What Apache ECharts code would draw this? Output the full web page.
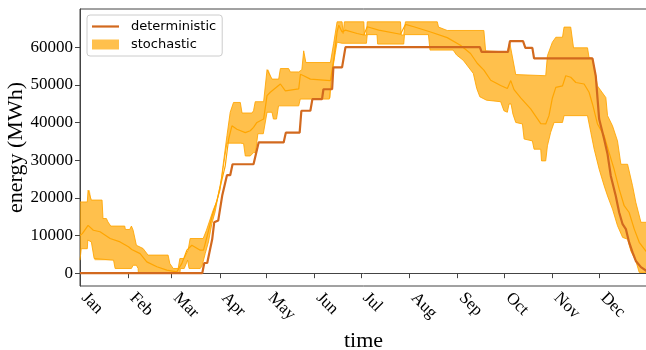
<!DOCTYPE html>
<html>
<head>
<meta charset="utf-8">
<script src="https://cdn.jsdelivr.net/npm/echarts@6/dist/echarts.min.js"></script>
<style>
html,body{margin:0;padding:0;background:#fff;}
#chart{width:646px;height:350px;}
</style>
</head>
<body>
<div id="chart"></div>
<script>
// ---- data (x = day of year, y = energy in MWh) ----
const months = ['Jan','Feb','Mar','Apr','May','Jun','Jul','Aug','Sep','Oct','Nov','Dec'];
const monthStartDays = [0,31,59,90,120,151,181,212,243,273,304,334];
const yTickValues = [0,10000,20000,30000,40000,50000,60000];

const detDays = [0,78.7,80,81.9,83.2,85.1,86.4,89,91.6,94.6,96.7,98.2,111.7,115,131.1,132.5,141.4,142.5,148.3,149.6,155.8,156.7,162.3,163.1,168.7,170.9,257.4,258.5,275.5,276.8,285.2,286.7,291.2,292.3,329.9,332,334.2,337.4,339.6,341.7,344.9,347.1,349.3,351.4,353.5,355.7,357.8,361.1,365];
const detValues = [0,0,2700,2700,5300,9000,13500,14000,20700,26000,26000,28900,28900,34700,34700,37300,37300,43100,43100,46200,46200,48800,48800,54600,54600,60000,60000,58700,58700,61600,61600,59800,59800,57000,57000,52400,40900,35600,31600,25800,20500,16100,13000,11700,8150,5500,3250,1600,500];

const upperDays = [0,4.7,5.2,6.3,7.3,14.2,14.8,17,18,19.8,28.8,29.2,32,33.1,34.2,36.3,40.6,43.8,56.7,57.8,60,63.2,64.3,67,69.6,70.9,79.3,81.4,83.6,85.7,87.9,90.1,91.9,94.6,96.7,98.8,103.2,104.3,110.7,111.7,112.8,118.2,120.4,121.4,123.6,127.9,129,134.3,135.4,140.8,142.8,144,145.4,161.2,163.3,165.5,168.7,169.4,170.2,182.7,183.1,184.4,184.9,206.3,206.8,208.4,209.5,230,230.8,236.4,260,261.1,275.1,276.6,277.9,280.5,299.8,300.9,304.1,306.3,310.6,311.6,315.9,317.7,326.7,327.7,329.9,333.1,338.5,339.6,342.8,346,348.2,352.5,355.7,357.8,361.1,365];
const upperValues = [18900,18900,22000,22000,19400,19400,14500,14500,13600,12500,12500,11600,11600,12500,11400,7400,6550,4800,4800,2600,1250,1250,3900,3900,6100,9200,9200,11400,14100,16700,18900,22000,28000,36500,42700,45300,45300,42500,42500,43100,45500,45500,54000,54000,51500,51500,54300,54300,53400,53400,54000,59000,55900,55900,61000,66700,66700,63600,66700,66700,63200,63200,66700,66700,63200,63200,66700,66700,65300,64400,64400,59000,58700,61200,58400,52700,52400,57700,61300,62600,62600,65300,65300,59800,59800,57200,57000,49700,46600,41800,39100,35100,28900,28900,23200,18800,13500,13500];

const lowerDays = [0,0.8,4.7,5,7.3,9.1,9.5,21.6,22.6,33.1,34.2,36.3,37.4,37.6,64.3,64.6,67.1,69.3,70.2,77.4,78.5,80.6,82.7,84.9,87,89.2,91.3,93.3,94.6,103.2,105.3,106.4,109.6,111.7,113,114.5,118,120.4,123.6,124.5,126.5,127.8,140.8,141.8,160.5,161.3,162.3,164.4,165.5,168.7,184.4,184.9,191.2,191.6,208.4,208.9,224.3,225.3,240.2,242.4,246.7,253.2,255.4,257.4,261.7,270.8,272.9,275.1,276.2,277.5,278.7,280.5,284.8,285.9,291.2,292.3,296.6,297.1,299.8,300.9,303,305.2,310.6,311.6,326.7,328.8,331,334.2,337.4,339.6,342.8,346,349.3,352.5,354.6,357.8,360,365];
const lowerValues = [3450,6500,6500,8800,8300,3900,3450,3450,1250,1250,2100,2100,1250,0,0,1250,1250,3450,1250,1250,1850,5200,8300,13200,16300,21200,25600,31100,34500,34500,34400,31100,31100,32000,32000,37000,37000,42700,42700,40900,40900,44400,44400,46200,46200,46600,53300,58600,61300,61000,61000,63300,63300,60800,60800,63300,63300,59200,59200,57900,56500,53000,49000,46800,45900,45500,43100,42700,44900,44900,42200,40000,39600,35600,35100,32900,32900,29800,29800,33800,37400,40000,40000,41800,41800,37400,32900,27600,23200,20500,17000,12600,9500,9000,5900,3250,200,200];

const medianDays = [0,1.5,5.2,8.6,12.9,19.4,25.8,31.2,33.3,38.7,43,49.5,55.9,62.3,65.6,68.8,72,77.4,79.5,81.7,84.9,88.2,91.3,93.5,95.7,97.8,101,106.4,109.6,111.7,113.9,118.2,120.4,122.5,129,132.2,140.8,141.9,144,148.3,161.2,163.3,165.5,166.6,168.7,170.9,178.4,182.7,184.9,192.3,206.3,209.5,214.9,225.7,236.4,244.9,251.4,255.7,260,264.4,270.8,275.1,277.3,279.4,283.7,290.1,296.6,299.8,301.9,304.1,306.3,310.6,312.7,315.9,319.2,324.5,327.7,329.9,333.1,337.4,340.6,343.8,347.1,350.3,353.5,356.8,360,365];
const medianValues = [10000,10500,12700,11400,11000,9200,8300,7000,6300,5200,3000,1700,800,350,2600,6100,7400,6100,6100,9600,14900,19400,24700,28500,35600,39100,38200,37300,37800,38700,40000,40900,47100,48000,50200,48400,48900,52800,52400,51500,51100,56500,64000,65800,64000,64500,63600,63200,65400,64500,63400,66000,65400,64000,62500,60500,58300,55700,53900,51200,49800,49000,51100,48700,46500,43600,39700,39600,41800,46500,49300,49700,52400,52000,50600,50200,48000,44900,39600,36500,32000,27600,22300,17900,16100,11700,8200,5500];

// ---- helpers ----
const zip = (xs, ys) => xs.map((x, i) => [x, ys[i]]);
const serif = 'Liberation Serif';
const sans = 'DejaVu Sans';
const axisColor = '#444';

const chart = echarts.init(document.getElementById('chart'), null, {renderer: 'canvas'});

const option = {
  animation: false,
  backgroundColor: '#fff',
  grid: {
    left: 80, right: -1, top: 9, bottom: 64,
    show: true, borderColor: axisColor, borderWidth: 1,
    outerBoundsMode: 'none'
  },
  legend: {
    orient: 'vertical',
    left: 87, top: 15,
    padding: [5, 6, 5, 5],
    itemGap: 5,
    itemWidth: 27, itemHeight: 10,
    symbolKeepAspect: true,
    backgroundColor: 'rgba(255,255,255,0.8)',
    borderColor: '#cccccc', borderWidth: 1, borderRadius: 3,
    textStyle: {fontFamily: sans, fontSize: 13, color: '#000', padding: [0,0,0,7]},
    data: [
      {name: 'deterministic', icon: 'path://M0,0H27V2.2H0Z', itemStyle: {color: '#D2691E'}},
      {name: 'stochastic', icon: 'rect'}
    ]
  },
  xAxis: {
    type: 'value', min: 0, max: 365,
    name: 'time', nameLocation: 'middle', nameGap: 44,
    nameMoveOverlap: false,
    nameTextStyle: {fontFamily: serif, fontSize: 22, color: '#000'},
    splitLine: {show: false},
    axisLine: {show: true, lineStyle: {color: axisColor, width: 1}},
    axisTick: {show: true, length: 5, lineStyle: {color: axisColor}, customValues: monthStartDays},
    axisLabel: {
      customValues: monthStartDays,
      rotate: -45, margin: 5,
      padding: [0, 0, 0, 6],
      fontFamily: serif, fontSize: 17, color: '#000',
      formatter: v => months[monthStartDays.indexOf(Math.round(v))] || ''
    }
  },
  yAxis: {
    type: 'value', min: -3400, max: 70100,
    name: 'energy (MWh)', nameLocation: 'middle', nameGap: 53,
    nameMoveOverlap: false,
    nameTextStyle: {fontFamily: serif, fontSize: 22, color: '#000'},
    splitLine: {show: false},
    axisLine: {show: true, lineStyle: {color: axisColor, width: 1}},
    axisTick: {show: true, length: 5, lineStyle: {color: axisColor}, customValues: yTickValues},
    axisLabel: {
      customValues: yTickValues, margin: 7,
      fontFamily: serif, fontSize: 17, color: '#000',
      formatter: v => String(Math.round(v))
    }
  },
  series: [
    {
      name: 'stochastic',
      type: 'custom',
      z: 1,
      silent: true,
      itemStyle: {color: 'rgba(255,165,0,0.7)'},
      data: [[0, 0]],
      renderItem: function (params, api) {
        const pts = [];
        for (let i = 0; i < upperDays.length; i++) pts.push(api.coord([upperDays[i], upperValues[i]]));
        for (let i = lowerDays.length - 1; i >= 0; i--) pts.push(api.coord([lowerDays[i], lowerValues[i]]));
        return {
          type: 'polygon',
          shape: {points: pts},
          style: {fill: 'rgba(255,165,0,0.7)', stroke: null}
        };
      }
    },
    {
      name: 'upper', type: 'line', z: 2, silent: true, symbol: 'none',
      data: zip(upperDays, upperValues),
      lineStyle: {color: 'rgba(255,165,0,0.85)', width: 1}
    },
    {
      name: 'lower', type: 'line', z: 2, silent: true, symbol: 'none',
      data: zip(lowerDays, lowerValues),
      lineStyle: {color: 'rgba(255,165,0,0.85)', width: 1}
    },
    {
      name: 'median', type: 'line', z: 3, silent: true, symbol: 'none',
      data: zip(medianDays, medianValues),
      lineStyle: {color: '#FFA500', width: 1.2}
    },
    {
      name: 'deterministic', type: 'line', z: 4, symbol: 'none',
      data: zip(detDays, detValues),
      itemStyle: {color: '#D2691E'},
      lineStyle: {color: '#D2691E', width: 2.2}
    }
  ]
};
chart.setOption(option);
</script>
</body>
</html>
